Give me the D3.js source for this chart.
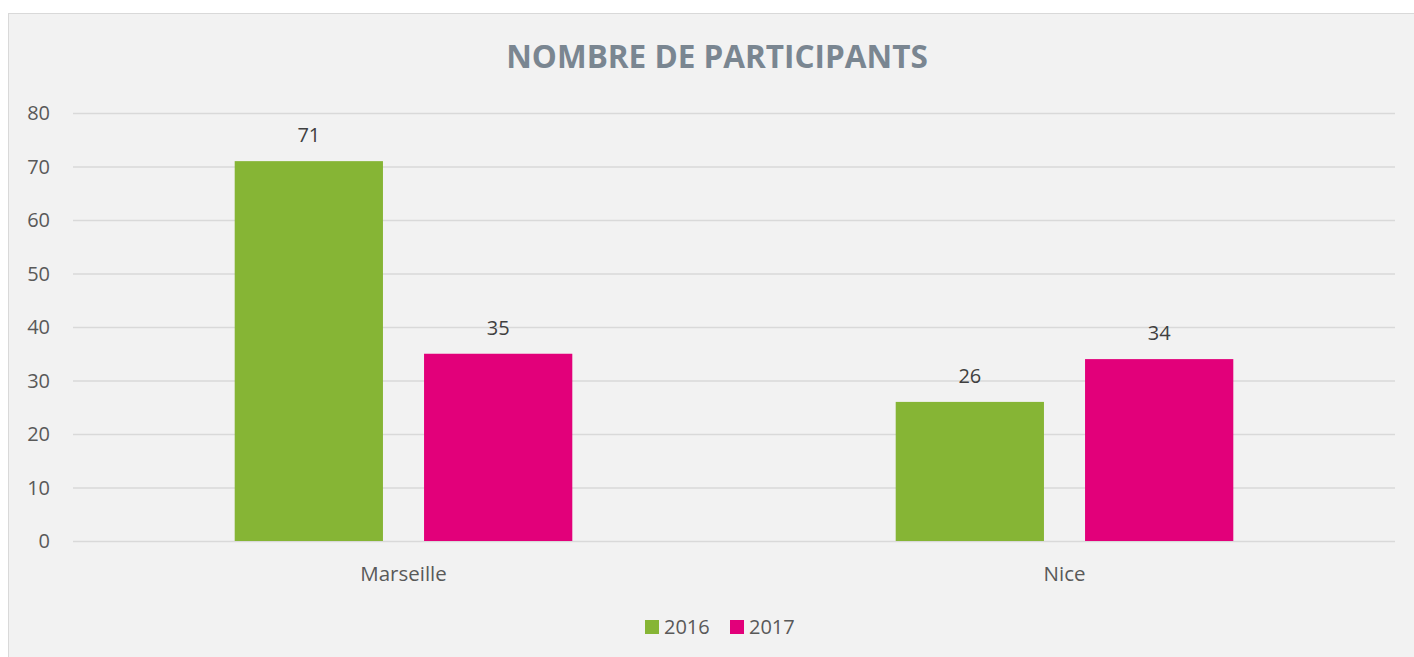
<!DOCTYPE html>
<html>
<head>
<meta charset="utf-8">
<script src="https://cdn.jsdelivr.net/npm/d3@7"></script>
<style>
  body { margin: 0; background: #fff; }
  svg { display: block; font-family: "Open Sans", "Liberation Sans", sans-serif; }
</style>
</head>
<body>
<svg></svg>
<script>
var width = 1414;
var height = 657;

var cities = ["Marseille", "Nice"];
var years = ["2016", "2017"];
var values2016 = [71, 26];
var values2017 = [35, 34];
var yTicks = [0, 10, 20, 30, 40, 50, 60, 70, 80];
var colors = ["#86b535", "#e2007a"];

const svg = d3.select("svg")
    .attr("width", width)
    .attr("height", height);

// chart background + frame
svg.append("rect")
    .attr("x", 8.5).attr("y", 13.5)
    .attr("width", width).attr("height", height)
    .attr("fill", "#f2f2f2")
    .attr("stroke", "#d9d9d9");

svg.append("text")
    .attr("x", 717).attr("y", 68)
    .attr("text-anchor", "middle")
    .attr("font-size", 31.5).attr("font-weight", "bold")
    .attr("fill", "#7a8691")
    .text("NOMBRE DE PARTICIPANTS");

var margin = { left: 73, right: 1395, top: 113, bottom: 541 };

const x = d3.scaleBand()
    .domain(cities)
    .range([margin.left, margin.right]);

const xInner = d3.scaleBand()
    .domain(years)
    .range([0, x.bandwidth()])
    .paddingInner(0.217)
    .paddingOuter(0.854);

const y = d3.scaleLinear()
    .domain([0, 80])
    .range([margin.bottom, margin.top]);

// grid lines
svg.append("g")
    .selectAll("line")
    .data(yTicks)
    .join("line")
    .attr("x1", margin.left).attr("x2", margin.right)
    .attr("y1", d => y(d) + 0.5).attr("y2", d => y(d) + 0.5)
    .attr("stroke", "#d9d9d9").attr("stroke-width", 1.3);

// y labels
svg.append("g")
    .selectAll("text")
    .data(yTicks)
    .join("text")
    .attr("x", 50).attr("y", d => y(d))
    .attr("dy", "0.35em")
    .attr("text-anchor", "end")
    .attr("font-size", 20).attr("fill", "#595959")
    .text(d => d);

var rows = cities.map((c, i) => ({ city: c, vals: [values2016[i], values2017[i]] }));

const group = svg.append("g")
    .selectAll("g")
    .data(rows)
    .join("g")
    .attr("transform", d => `translate(${x(d.city)},0)`);

const bars = group.selectAll("g")
    .data(d => d.vals.map((v, j) => ({ year: years[j], value: v, idx: j })))
    .join("g");

bars.append("rect")
    .attr("x", d => xInner(d.year))
    .attr("y", d => y(d.value))
    .attr("width", xInner.bandwidth())
    .attr("height", d => y(0) - y(d.value))
    .attr("fill", d => colors[d.idx]);

bars.append("text")
    .attr("x", d => xInner(d.year) + xInner.bandwidth() / 2)
    .attr("y", d => y(d.value) - 19)
    .attr("text-anchor", "middle")
    .attr("font-size", 20).attr("fill", "#404040")
    .text(d => d.value);

// category labels
svg.append("g")
    .selectAll("text")
    .data(cities)
    .join("text")
    .attr("x", d => x(d) + x.bandwidth() / 2)
    .attr("y", 581)
    .attr("text-anchor", "middle")
    .attr("font-size", 20.5).attr("fill", "#595959")
    .text(d => d);

// legend
const legend = svg.append("g")
    .selectAll("g")
    .data(years)
    .join("g")
    .attr("transform", (d, i) => `translate(${645 + i * 85},620)`);

legend.append("rect")
    .attr("width", 14).attr("height", 14)
    .attr("fill", (d, i) => colors[i]);

legend.append("text")
    .attr("x", 19).attr("y", 7)
    .attr("dy", "0.35em")
    .attr("font-size", 20).attr("fill", "#595959")
    .text(d => d);
</script>
</body>
</html>
